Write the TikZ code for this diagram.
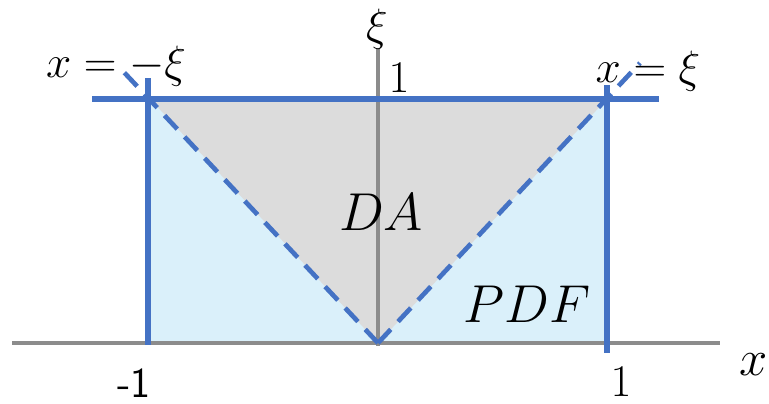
\RequirePackage{fix-cm}
\documentclass[tikz,border=0pt]{standalone}
\usetikzlibrary{positioning}
\definecolor{lineblue}{HTML}{4472C4}
\definecolor{axisgray}{HTML}{8C8C8C}
\definecolor{pdfblue}{HTML}{DAF0FA}
\definecolor{dagray}{HTML}{DCDCDC}
\begin{document}
\begin{tikzpicture}[x=0.75pt, y=-0.75pt]
\tikzstyle{axis}=[draw=axisgray, line width=3pt]
\tikzstyle{edge}=[draw=lineblue, line width=4.5pt]
\tikzstyle{diag}=[draw=lineblue, line width=3.5pt, dash pattern=on 14pt off 8pt]
\tikzstyle{lbl}=[inner sep=0pt, anchor=base]
\useasboundingbox (0,0) rectangle (769,404);

% corners of the regions
\coordinate (tl) at (150,99);
\coordinate (tr) at (607,99);
\coordinate (br) at (607,343);
\coordinate (o) at (378,343);
\fill[pdfblue] (tl) rectangle (br);
\fill[dagray] (tl) -- (tr) -- (o) -- cycle;

% axes
\coordinate (xa) at (12,343); \coordinate (xb) at (720,343);
\coordinate (ya) at (378,48); \coordinate (yb) at (378,346);
\draw[axis] (xa) -- (xb);
\draw[axis] (ya) -- (yb);

% box edges
\coordinate (ta) at (92,99); \coordinate (tb) at (659,99);
\coordinate (la) at (148,78); \coordinate (lb) at (148,345);
\coordinate (ra) at (607,85); \coordinate (rb) at (607,353);
\draw[edge] (ta) -- (tb);
\draw[edge] (la) -- (lb);
\draw[edge] (ra) -- (rb);

% x = -xi and x = xi
\coordinate (dl) at (120,68); \coordinate (dr) at (640,63);
\draw[diag] (o) -- (dl);
\draw[diag] (o) -- (dr);

% labels
\node[lbl, font=\fontsize{34}{40}\selectfont] (lmxi) at (116,77) {$x=-\xi$};
\node[lbl, font=\fontsize{34}{40}\selectfont] (lpxi) at (648,82) {$x=\xi$};
\node[lbl, font=\fontsize{34}{40}\selectfont] (lxi) at (377,40) {$\xi$};
\node[lbl, font=\fontsize{34}{40}\selectfont] (lone) at (399,92) {$1$};
\node[lbl, font=\fontsize{40}{48}\selectfont] (lda) at (381,230) {$DA$};
\node[lbl, font=\fontsize{40}{48}\selectfont] (lpdf) at (527,322) {$PDF$};
\node[lbl, font=\fontsize{32}{38}\selectfont\sffamily] (lmone) at (134,397) {-1};
\node[lbl, font=\fontsize{34}{40}\selectfont] (lpone) at (621,396) {$1$};
\node[lbl, font=\fontsize{38}{44}\selectfont] (lx) at (754,375) {$x$};
\end{tikzpicture}
\end{document}
